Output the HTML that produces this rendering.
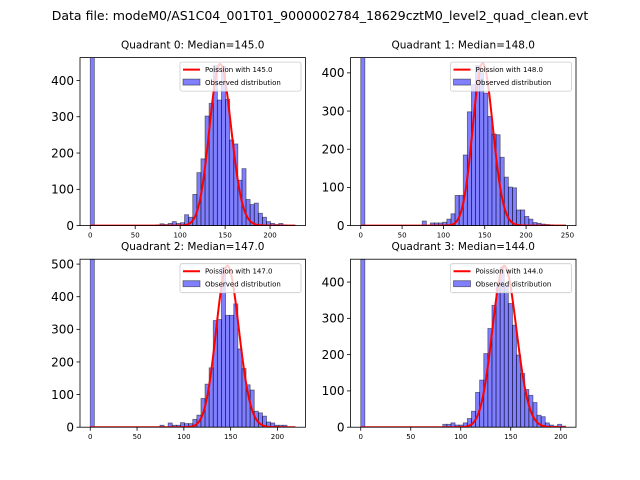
<!DOCTYPE html>
<html><head><meta charset="utf-8"><style>
body{margin:0;background:#fff;}
svg{display:block;font-family:"DejaVu Sans","Liberation Sans",sans-serif;}
</style></head><body>
<svg id="fig" width="640" height="480" viewBox="0 0 640 480">
<rect width="640" height="480" fill="#fff"/>
<text x="320" y="20" text-anchor="middle" font-size="12.5">Data file: modeM0/AS1C04_001T01_9000002784_18629cztM0_level2_quad_clean.evt</text>
</svg>
<script>
const quadrantNames = ["Quadrant 0","Quadrant 1","Quadrant 2","Quadrant 3"];
const medians = [145.0, 148.0, 147.0, 144.0];
const dataMax = [228, 248, 219, 205];
const yLimits = [463, 440, 515, 463];
const yTickVals = [[0,100,200,300,400],[0,100,200,300,400],[0,100,200,300,400,500],[0,100,200,300,400]];
const xTickVals = [[0,50,100,150,200],[0,50,100,150,200,250],[0,50,100,150,200],[0,50,100,150,200]];
const poissonPeak = [445, 425, 495, 445];
const counts0 = [5000,0,0,0,0,0,0,0,0,0,0,0,0,0,0,0,2,5,3,6,11,6,8,30,23,86,146,184,302,337,441,346,439,348,236,225,125,157,72,58,62,34,23,11,6,3,6,2,1,1];
const counts1 = [5000,0,0,0,0,0,0,0,0,0,0,0,0,0,0,12,0,7,7,7,9,17,31,79,79,185,298,369,419,400,347,286,240,238,179,127,101,99,41,41,24,17,8,6,4,3,2,1,1,1];
const counts2 = [5000,0,0,0,0,0,0,0,0,0,0,0,0,0,0,0,0,6,0,13,6,6,14,11,11,24,37,88,132,182,327,330,490,343,343,378,240,180,130,114,49,44,34,16,13,6,6,6,1,1];
const counts3 = [5000,0,0,0,0,0,0,0,0,0,0,0,0,0,0,0,0,0,0,0,8,8,12,6,6,12,24,44,96,130,203,272,336,396,441,391,341,281,199,148,104,88,68,33,29,12,6,3,8,3];
const allCounts = [counts0, counts1, counts2, counts3];

const NS = "http://www.w3.org/2000/svg";
const svg = document.getElementById('fig');
function mk(tag, attrs, parent){const e=document.createElementNS(NS,tag);for(const k in attrs)e.setAttribute(k,attrs[k]);(parent||svg).appendChild(e);return e;}
function lgamma(n){let s=0;for(let i=2;i<=n;i++)s+=Math.log(i);return s;}

const boxes = [[80,57.6],[350.5,57.6],[80,259.2],[350.5,259.2]];
const W = 225.5, H = 168;

for (let q=0;q<4;q++){
  const [x0,y0] = boxes[q];
  const counts = allCounts[q];
  const dmax = dataMax[q];
  const xmin = -0.05*dmax, xmax = dmax*1.05;
  const xs = v => x0 + (v - xmin)/(xmax - xmin)*W;
  const ys = v => y0 + H - v/yLimits[q]*H;
  const g = mk('g',{});
  
  
  const cp = mk('clipPath',{id:'clip'+q},g);
  mk('rect',{x:x0,y:y0,width:W,height:H},cp);
  const plot = mk('g',{'clip-path':'url(#clip'+q+')'},g);
  const bw = dmax/counts.length;
  counts.forEach((c,i)=>{
    if(c<=0) return;
    const r = mk('rect',{x:xs(i*bw),y:ys(c),width:xs((i+1)*bw)-xs(i*bw),height:ys(0)-ys(c),fill:'rgba(0,0,255,0.5)',stroke:'rgba(0,0,0,0.5)','stroke-width':0.8},plot);
    
    
  });
  // poisson curve
  const lam = medians[q];
  const kp = Math.floor(lam);
  const lpPeak = kp*Math.log(lam)-lam-lgamma(kp);
  let d='';
  for(let k=0;k<=dmax;k++){
    const v = poissonPeak[q]*Math.exp(k*Math.log(lam)-lam-lgamma(k)-lpPeak);
    d += (k?'L':'M')+xs(k).toFixed(2)+','+ys(v).toFixed(2);
  }
  const curve = mk('path',{d:d,fill:'none',stroke:'red','stroke-width':2},plot);
  
  
  // spines
  const frame = mk('rect',{x:x0,y:y0,width:W,height:H,fill:'none',stroke:'#000','stroke-width':0.8},g);
  
  
  // ticks
  yTickVals[q].forEach(t=>{
    const y = ys(t);
    mk('line',{x1:x0-3.5,x2:x0,y1:y,y2:y,stroke:'#000','stroke-width':0.8},g);
    const tx = mk('text',{x:x0-6,y:y+4.3,'text-anchor':'end','font-size':12},g);
    tx.textContent = t;
    
    
  });
  xTickVals[q].forEach(t=>{
    const x = xs(t);
    mk('line',{x1:x,x2:x,y1:y0+H,y2:y0+H+3.5,stroke:'#000','stroke-width':0.8},g);
    const tx = mk('text',{x:x,y:y0+H+12,'text-anchor':'middle','font-size':7},g);
    tx.textContent = t;
    
    
  });
  const title = mk('text',{x:x0+W/2,y:y0-9,'text-anchor':'middle','font-size':10.5},g);
  title.textContent = quadrantNames[q]+': Median='+medians[q].toFixed(1);
  
  
  // legend
  const lg = mk('g',{},g);
  
  
  const lx = x0+W-125.5, ly = y0+4.5;
  mk('rect',{x:lx,y:ly,width:121,height:29,rx:2,fill:'rgba(255,255,255,0.8)',stroke:'#ccc','stroke-width':0.8},lg);
  mk('line',{x1:lx+3,x2:lx+20,y1:ly+7.5,y2:ly+7.5,stroke:'red','stroke-width':2},lg);
  const t1 = mk('text',{x:lx+25,y:ly+10,'font-size':7},lg);
  t1.textContent = 'Poission with '+medians[q].toFixed(1);
  
  
  mk('rect',{x:lx+3,y:ly+17,width:17,height:6,fill:'rgba(0,0,255,0.5)',stroke:'rgba(0,0,0,0.5)','stroke-width':0.8},lg);
  const t2 = mk('text',{x:lx+25,y:ly+23,'font-size':7},lg);
  t2.textContent = 'Observed distribution';
  
  
}
</script>
</body></html>
